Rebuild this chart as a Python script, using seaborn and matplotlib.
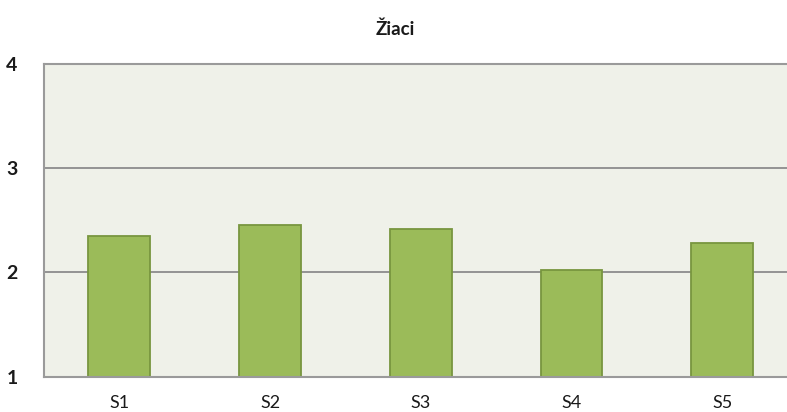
import seaborn as sns
from matplotlib import pyplot as plt
import pandas as pd

# values
students = ['S1', 'S2', 'S3', 'S4', 'S5']
scores = [2.35, 2.45, 2.415, 2.02, 2.28]
y_ticks = [1, 2, 3, 4]

df = pd.DataFrame({'student': students, 'score': scores})

sns.set_style('white')
plt.rcParams['font.family'] = ['Lato', 'DejaVu Sans']

fig = plt.figure(figsize=(7.87, 4.12), dpi=100)
# plot area runs off the right edge like in the original
ax = fig.add_axes([44 / 787, 35.5 / 412, 753.7 / 787, 312.5 / 412])

sns.barplot(data=df, x='student', y='score', color='#9BBB59', width=0.41,
            edgecolor='#78963F', linewidth=1.3, saturation=1, ax=ax)
# bars start at the axis floor (1), so redraw heights from 1
for p, v in zip(ax.patches, scores):
    p.set_y(1)
    p.set_height(v - 1)

ax.set_facecolor('#EFF1E9')
ax.set_ylim(1, 4)
ax.set_xlim(-0.5, 4.5)
ax.set_yticks(y_ticks)
ax.set_yticklabels([str(t) for t in y_ticks], fontsize=14, fontweight='bold', color='#1a1a1a')
ax.set_xticklabels(students, fontsize=13, color='#1a1a1a')
ax.tick_params(axis='y', length=0, pad=19)
ax.tick_params(axis='x', length=0, pad=13)
ax.set_xlabel('')
ax.set_ylabel('')

ax.yaxis.grid(True, color='#8C8C8C', linewidth=1.3)
ax.set_axisbelow(True)
for side in ['left', 'top', 'bottom']:
    ax.spines[side].set_color('#9A9A9A')
    ax.spines[side].set_linewidth(1.5)
ax.spines['right'].set_visible(False)

fig.text(0.502, 0.93, 'Žiaci', ha='center', va='center', fontsize=13.5, fontweight='bold', color='#1a1a1a')

plt.savefig('out.png', dpi=100)
